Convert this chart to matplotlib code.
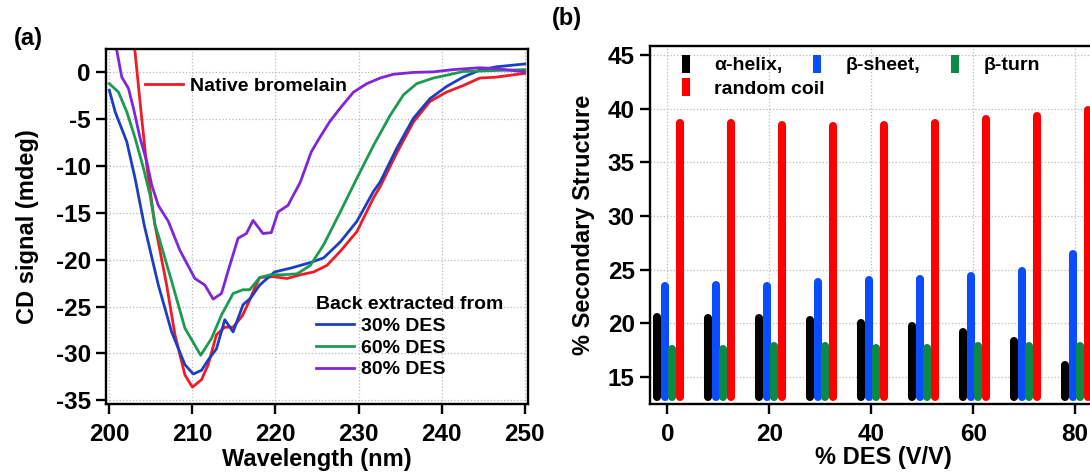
import matplotlib
matplotlib.use("Agg")
import matplotlib.pyplot as plt
from matplotlib.lines import Line2D

plt.rcParams['font.family'] = ['Liberation Sans', 'DejaVu Sans']
plt.rcParams['font.weight'] = 'bold'
plt.rcParams['axes.unicode_minus'] = False

# ---- panel (a): CD spectra ----
wl_native = [203.0, 203.9, 204.5, 205.1, 205.5, 206.9, 207.9, 209.1, 210.0, 211.1, 211.9,
             212.9, 213.9, 214.9, 216.0, 216.8, 217.5, 218.1, 219.7, 221.4, 223.0, 224.6,
             226.2, 227.8, 229.8, 231.8, 232.6, 234.6, 236.6, 238.6, 240.6, 242.6, 244.6,
             246.6, 250.0]
cd_native = [3.0, -4.9, -9.9, -13.8, -16.3, -22.7, -28.0, -32.3, -33.6, -32.8, -31.2,
             -28.0, -27.2, -27.2, -26.0, -24.5, -23.0, -21.9, -21.8, -22.0, -21.6, -21.3,
             -20.6, -19.1, -17.0, -13.4, -12.2, -8.6, -5.3, -3.1, -2.1, -1.4, -0.6,
             -0.5, -0.1]

wl_30 = [200.0, 200.7, 202.1, 203.1, 204.2, 205.9, 207.5, 209.1, 210.1, 211.1, 211.9,
         212.9, 213.9, 214.9, 216.1, 217.0, 218.1, 219.9, 221.8, 224.2, 225.8, 227.8,
         229.8, 231.8, 232.6, 234.6, 236.6, 238.6, 240.6, 242.6, 244.6, 246.6, 250.0]
cd_30 = [-1.9, -4.2, -7.4, -11.3, -16.3, -22.7, -27.7, -31.2, -32.2, -31.8, -30.7,
         -29.5, -26.4, -27.7, -24.8, -24.1, -22.7, -21.3, -20.9, -20.3, -19.8, -18.1,
         -15.9, -12.7, -11.7, -8.1, -4.9, -2.8, -1.5, -0.5, 0.25, 0.6, 0.9]

wl_60 = [200.0, 201.1, 202.1, 203.1, 204.1, 204.9, 205.5, 205.9, 207.5, 209.1, 211.0,
         212.3, 213.5, 214.9, 216.1, 216.9, 218.1, 219.4, 220.9, 222.6, 224.2, 225.8,
         227.8, 229.8, 231.8, 233.8, 235.4, 237.0, 239.0, 240.6, 242.6, 244.6, 250.0]
cd_60 = [-1.2, -2.1, -4.2, -7.0, -10.2, -13.1, -16.3, -17.4, -22.3, -27.3, -30.2,
         -28.4, -25.9, -23.6, -23.2, -23.2, -21.9, -21.6, -21.6, -21.5, -20.6, -18.4,
         -14.9, -11.3, -7.8, -4.6, -2.4, -1.2, -0.6, -0.3, 0.1, 0.15, 0.3]

wl_80 = [200.8, 201.5, 202.3, 202.9, 203.7, 204.5, 205.1, 205.9, 207.1, 208.5, 210.3,
         211.5, 212.5, 213.5, 214.5, 215.5, 216.5, 217.3, 218.5, 219.5, 220.3, 221.5,
         223.0, 224.3, 225.3, 226.5, 227.8, 229.4, 231.0, 232.6, 234.2, 236.6, 239.0,
         241.4, 244.6, 246.6, 250.0]
cd_80 = [2.8, -0.5, -1.7, -3.8, -7.0, -9.5, -12.0, -14.2, -15.9, -19.0, -22.0,
         -22.7, -24.2, -23.6, -20.6, -17.7, -17.2, -15.8, -17.2, -17.1, -14.9, -14.2,
         -11.7, -8.5, -7.0, -5.3, -3.8, -2.1, -1.2, -0.6, -0.2, 0.0, 0.06,
         0.3, 0.5, 0.4, 0.06]

# ---- panel (b): secondary structure ----
des = [0, 10, 20, 30, 40, 50, 60, 70, 80]
helix = [20.55, 20.5, 20.5, 20.25, 20.0, 19.7, 19.15, 18.3, 16.1]
sheet = [23.45, 23.6, 23.45, 23.85, 24.05, 24.15, 24.4, 24.85, 26.4]
turn = [17.6, 17.6, 17.85, 17.85, 17.7, 17.7, 17.85, 17.85, 17.85]
coil = [38.65, 38.65, 38.5, 38.35, 38.5, 38.7, 39.0, 39.3, 39.9]

fig = plt.figure(figsize=(10.9, 4.75), dpi=100)

grid_kw = dict(color='#bbbbbb', linestyle=':', linewidth=0.9)
TICK = 17.5
LAB = 17
LEG = 14


def style_axes(ax):
    for s in ax.spines.values():
        s.set_linewidth(1.7)
    ax.tick_params(direction='out', length=7, width=1.7, labelsize=TICK)
    ax.tick_params(axis='x', pad=7)
    ax.tick_params(axis='y', pad=4)
    ax.grid(True, **grid_kw)
    ax.set_axisbelow(True)


ax1 = fig.add_axes([106 / 1090, 71 / 475, 422 / 1090, 355 / 475])
ax1.plot(wl_native, cd_native, color='#ee1c25', lw=2.0)
l30, = ax1.plot(wl_30, cd_30, color='#1b3fc4', lw=2.0)
l60, = ax1.plot(wl_60, cd_60, color='#1b9a52', lw=2.0)
l80, = ax1.plot(wl_80, cd_80, color='#7f26d9', lw=2.0)
ax1.set_xlim(199.6, 250.4)
ax1.set_ylim(-35.4, 2.5)
ax1.set_xticks(range(200, 251, 10))
ax1.set_yticks(range(-35, 1, 5))
style_axes(ax1)
ax1.set_xlabel('Wavelength (nm)', fontsize=LAB, fontweight='bold', labelpad=1)
ax1.set_ylabel('CD signal (mdeg)', fontsize=LAB, fontweight='bold', labelpad=12)

leg1 = ax1.legend([Line2D([], [], color='#ee1c25', lw=2.0)], ['Native bromelain'],
                  loc='upper left', bbox_to_anchor=(0.092, 0.92), frameon=False,
                  fontsize=LEG, handlelength=1.95, handletextpad=0.36, borderpad=0,
                  borderaxespad=0)
ax1.add_artist(leg1)
leg2 = ax1.legend([l30, l60, l80], ['30% DES', '60% DES', '80% DES'],
                  title='Back extracted from', loc='upper left',
                  bbox_to_anchor=(0.497, 0.305), frameon=False, fontsize=LEG,
                  title_fontproperties={'size': LEG, 'weight': 'bold'},
                  handlelength=1.95, handletextpad=0.4, labelspacing=0.22,
                  borderpad=0, borderaxespad=0, alignment='left')
fig.text(14 / 1090, 1 - 38 / 475, '(a)', fontsize=17, fontweight='bold', va='center')

# panel (b) extends past the right edge of the figure, as in the original
ax2 = fig.add_axes([650 / 1090, 71 / 475, 466 / 1090, 358 / 475])
series = [(helix, 'black', -2.0, 'α-helix,'),
          (sheet, '#0a4dff', -0.5, 'β-sheet,'),
          (turn, '#0b8a45', 1.0, 'β-turn'),
          (coil, '#ff0000', 2.5, 'random coil')]
base = 13.1
handles = {}
for vals, col, off, lab in series:
    for x, v in zip(des, vals):
        ax2.plot([x + off, x + off], [base, v], color=col, lw=5.8,
                 solid_capstyle='round', zorder=3)
    handles[lab] = Line2D([], [], color=col, marker='|', markersize=13,
                          markeredgewidth=5.8, linestyle='none')
ax2.set_xlim(-3.4, 88)
ax2.set_ylim(12.46, 45.84)
ax2.set_xticks([0, 20, 40, 60, 80])
ax2.set_yticks(range(15, 46, 5))
style_axes(ax2)
ax2.set_xlabel('% DES (V/V)', fontsize=LAB, fontweight='bold', labelpad=0)
ax2.set_ylabel('% Secondary Structure', fontsize=LAB, fontweight='bold', labelpad=9)

top_labels = ['α-helix,', 'β-sheet,', 'β-turn']
legb = ax2.legend([handles[k] for k in top_labels], top_labels, ncol=3,
                  loc='upper left', bbox_to_anchor=(0.06, 0.97), frameon=False,
                  fontsize=LEG, handlelength=0.8, handletextpad=1.05,
                  columnspacing=1.4, borderpad=0, borderaxespad=0)
ax2.add_artist(legb)
ax2.legend([handles['random coil']], ['random coil'], loc='upper left',
           bbox_to_anchor=(0.06, 0.905), frameon=False, fontsize=LEG,
           handlelength=0.8, handletextpad=1.05, borderpad=0, borderaxespad=0)
fig.text(552 / 1090, 1 - 18 / 475, '(b)', fontsize=17, fontweight='bold', va='center')

fig.savefig('out.png', dpi=100)
